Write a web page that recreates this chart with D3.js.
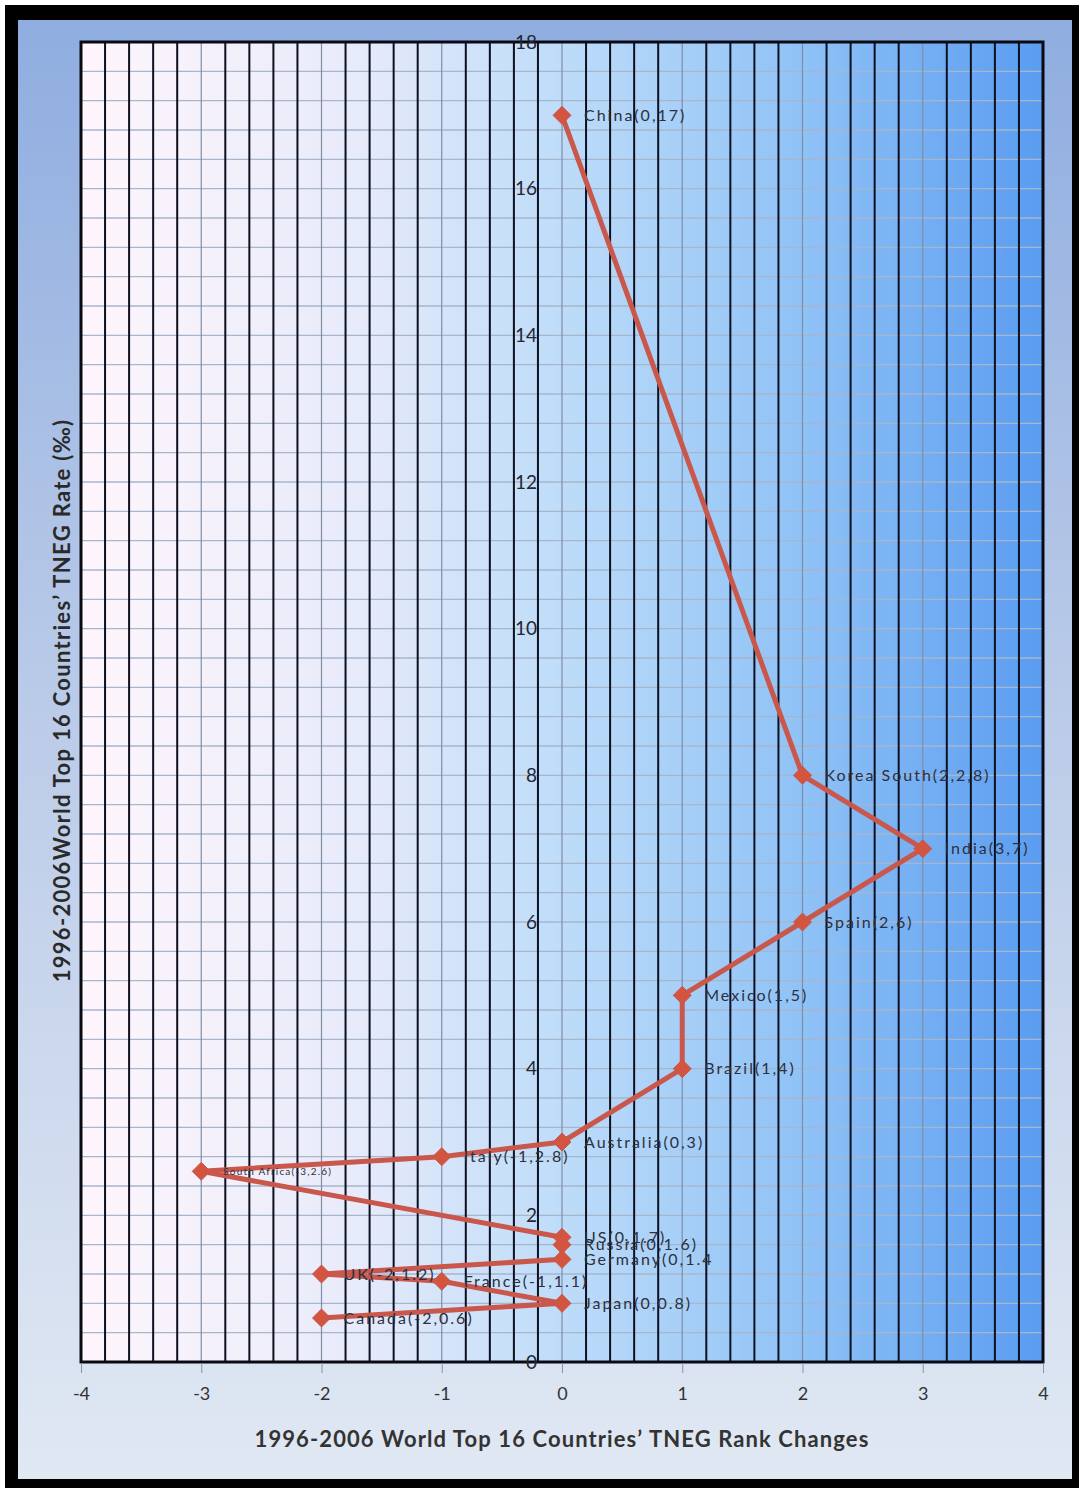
<!DOCTYPE html>
<html>
<head>
<meta charset="utf-8">
<script src="https://cdn.jsdelivr.net/npm/d3@7"></script>
<style>
  html, body { margin: 0; padding: 0; background: #fff; }
  svg { display: block; }
  text { font-family: Lato, "Open Sans", sans-serif; }
</style>
</head>
<body>
<svg id="chart" width="1079" height="1488"></svg>
<script>
// Countries in the order the connecting line visits them
const countries = ["China", "Korea South", "India", "Spain", "Mexico", "Brazil", "Australia", "Italy",
  "South Africa", "US", "Russia", "Germany", "UK", "France", "Japan", "Canada"];
// Rank change 1996-2006 (x)
const rankChange = [0, 2, 3, 2, 1, 1, 0, -1, -3, 0, 0, 0, -2, -1, 0, -2];
// TNEG rate, per mille (y)
const tnegRate = [17, 8, 7, 6, 5, 4, 3, 2.8, 2.6, 1.7, 1.6, 1.4, 1.2, 1.1, 0.8, 0.6];
// Point labels as printed on the chart
const pointLabels = ["China(0,17)", "Korea South(2,2,8)", "India(3,7)", "Spain(2,6)", "Mexico(1,5)",
  "Brazil(1,4)", "Australia(0,3)", "Italy(-1,2.8)", "South Africa(-3,2.6)", "US(0,1.7)", "Russia(0,1.6)",
  "Germany(0,1.4", "UK(-2,1.2)", "France(-1,1.1)", "Japan(0,0.8)", "Canada(-2,0.6)"];
const xTicks = [-4, -3, -2, -1, 0, 1, 2, 3, 4];
const yTicks = [0, 2, 4, 6, 8, 10, 12, 14, 16, 18];

const xTitle = "1996-2006 World Top 16 Countries\u2019 TNEG Rank Changes";
const yTitle = "1996-2006World Top 16 Countries\u2019 TNEG Rate  (\u2030)";

const svg = d3.select("#chart");
const W = 1079, H = 1488;
const plot = { left: 81, right: 1043, top: 42, bottom: 1362 };

const x = d3.scaleLinear().domain([-4, 4]).range([plot.left, plot.right]);
const y = d3.scaleLinear().domain([0, 18]).range([plot.bottom, plot.top]);

const defs = svg.append("defs");
const bgGrad = defs.append("linearGradient").attr("id", "bgGrad")
  .attr("x1", 0).attr("y1", 0).attr("x2", 0).attr("y2", 1);
[[0, "#8fade0"], [0.45, "#b9cae8"], [1, "#e0e8f3"]].forEach(([o, c]) =>
  bgGrad.append("stop").attr("offset", o).attr("stop-color", c));

const plotGrad = defs.append("linearGradient").attr("id", "plotGrad")
  .attr("x1", 0).attr("y1", 0).attr("x2", 1).attr("y2", 0);
[[0, "#fff6fc"], [0.28, "#e8ebfa"], [0.5, "#bedcf9"], [0.75, "#8fc2f6"], [1, "#5a9cf0"]].forEach(([o, c]) =>
  plotGrad.append("stop").attr("offset", o).attr("stop-color", c));

// Frame and chart background
svg.append("rect").attr("x", 5).attr("y", 5).attr("width", W - 5).attr("height", H - 5).attr("fill", "#000");
svg.append("rect").attr("x", 18).attr("y", 20).attr("width", 1054).attr("height", 1459).attr("fill", "url(#bgGrad)");

// Plot area
svg.append("rect")
  .attr("x", plot.left).attr("y", plot.top)
  .attr("width", plot.right - plot.left).attr("height", plot.bottom - plot.top)
  .attr("fill", "url(#plotGrad)");

const grid = svg.append("g");

// Horizontal gridlines every 0.4
grid.selectAll("line.h").data(d3.range(1, 45).map(i => +(i * 0.4).toFixed(1)))
  .join("line").attr("class", "h")
  .attr("x1", plot.left).attr("x2", plot.right)
  .attr("y1", d => y(d)).attr("y2", d => y(d))
  .attr("stroke", "#a7b6cc").attr("stroke-width", 1.3);

// Vertical minor gridlines every 0.2 (dark), integers are drawn lighter
const minorX = d3.range(-20, 21).map(i => i / 5).filter(v => !Number.isInteger(v));
grid.selectAll("line.vminor").data(minorX)
  .join("line").attr("class", "vminor")
  .attr("x1", d => x(d)).attr("x2", d => x(d))
  .attr("y1", plot.top).attr("y2", plot.bottom)
  .attr("stroke", "#0d1020").attr("stroke-width", 2);

grid.selectAll("line.vmajor").data(xTicks.slice(1, -1))
  .join("line").attr("class", "vmajor")
  .attr("x1", d => x(d)).attr("x2", d => x(d))
  .attr("y1", plot.top).attr("y2", plot.bottom)
  .attr("stroke", "#7f8ea6").attr("stroke-width", 1.2);

// Plot border
svg.append("rect")
  .attr("x", plot.left).attr("y", plot.top)
  .attr("width", plot.right - plot.left).attr("height", plot.bottom - plot.top)
  .attr("fill", "none").attr("stroke", "#0a0a14").attr("stroke-width", 3);

// X axis
const xAxis = svg.append("g").attr("transform", `translate(0,${plot.bottom + 1})`)
  .call(d3.axisBottom(x).tickValues(xTicks).tickSize(10).tickPadding(14).tickFormat(d => String(d)));
xAxis.select(".domain").remove();
xAxis.selectAll(".tick line").attr("stroke", "#8a94a4");
xAxis.selectAll(".tick text")
  .attr("font-size", 18).attr("fill", "#333").attr("font-family", "Lato, sans-serif");

// Y axis on the zero line
const yAxis = svg.append("g").attr("transform", `translate(${x(0)},0)`)
  .call(d3.axisLeft(y).tickValues(yTicks).tickSize(0).tickPadding(25).tickFormat(d => String(d)));
yAxis.select(".domain").remove();
yAxis.selectAll(".tick text")
  .attr("font-size", 19).attr("fill", "#262630").attr("font-family", "Lato, sans-serif");

// Axis titles
svg.append("text")
  .attr("x", x(0)).attr("y", 1447)
  .attr("text-anchor", "middle")
  .attr("font-size", 22).attr("font-weight", 700).attr("letter-spacing", 1.1).attr("fill", "#333")
  .text(xTitle);

svg.append("text")
  .attr("transform", `translate(70,${(418 + 983) / 2}) rotate(-90)`)
  .attr("text-anchor", "middle")
  .attr("font-size", 22).attr("font-weight", 700).attr("letter-spacing", 1.3).attr("fill", "#2a2a2a")
  .text(yTitle);

// Data series
const points = countries.map((c, i) => ({ name: c, rx: rankChange[i], ry: tnegRate[i], label: pointLabels[i] }));

svg.append("path").datum(points)
  .attr("d", d3.line().x(d => x(d.rx)).y(d => y(d.ry)))
  .attr("fill", "none").attr("stroke", "#c9574b").attr("stroke-width", 5)
  .attr("stroke-linejoin", "round");

svg.selectAll("path.marker").data(points).join("path").attr("class", "marker")
  .attr("transform", d => `translate(${x(d.rx)},${y(d.ry)})`)
  .attr("d", "M0,-9L9,0L0,9L-9,0Z")
  .attr("fill", "#d4553f").attr("stroke", "#c9574b").attr("stroke-width", 1);

svg.selectAll("text.plabel").data(points).join("text").attr("class", "plabel")
  .attr("x", d => x(d.rx) + 22)
  .attr("y", d => y(d.ry))
  .attr("dy", "0.35em")
  .attr("font-size", d => d.name === "South Africa" ? 10 : 16)
  .attr("letter-spacing", d => d.name === "South Africa" ? 1.2 : 2)
  .attr("fill", "#2c3040")
  .text(d => d.label);
</script>
</body>
</html>
